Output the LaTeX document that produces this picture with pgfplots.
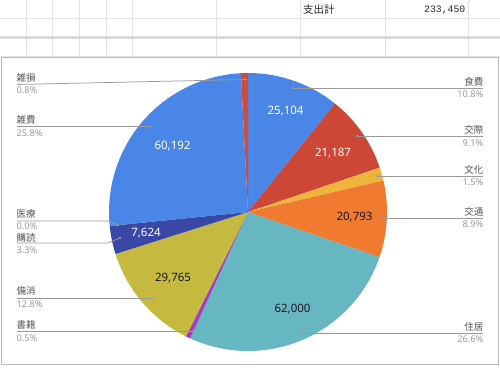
\documentclass[border=0pt]{standalone}
\usepackage{pgfplots}
\pgfplotsset{compat=1.18}
\usepackage{pgfplotstable}
\usepackage{fontspec}
\setmainfont{Noto Sans}
\newfontfamily\cjk{Noto Sans CJK JP}
\newfontfamily\num{Noto Sans}
\newfontfamily\mono{Liberation Mono}
\definecolor{pc0}{HTML}{4A86E8}
\definecolor{pc1}{HTML}{CC4735}
\definecolor{pc2}{HTML}{EEB43C}
\definecolor{pc3}{HTML}{EF7A30}
\definecolor{pc4}{HTML}{67B7C2}
\definecolor{pc5}{HTML}{A23CC0}
\definecolor{pc6}{HTML}{C5B93F}
\definecolor{pc7}{HTML}{3A47A6}
\definecolor{pc8}{HTML}{2F3E9E}
\definecolor{pc9}{HTML}{4A86E8}
\definecolor{pc10}{HTML}{D04B3C}
\definecolor{gridc}{HTML}{E3E3E3}
\definecolor{bandc}{HTML}{D6D9DD}
\definecolor{namec}{HTML}{555555}
\definecolor{pctc}{HTML}{9A9A9A}
\definecolor{leadc}{HTML}{9A9A9A}
\pgfplotstableread{
v
25104
21187
3600
20793
62000
1250
29765
7624
35
60192
1900
}\pietable
\tikzset{
  nl/.style={anchor=west, inner sep=0, text=namec, font=\cjk\fontsize{9.5bp}{11bp}\selectfont},
  pl/.style={anchor=west, inner sep=0, text=pctc, font=\num\fontsize{9.2bp}{11bp}\selectfont},
  nr/.style={anchor=east, inner sep=0, text=namec, font=\cjk\fontsize{9.5bp}{11bp}\selectfont},
  pr/.style={anchor=east, inner sep=0, text=pctc, font=\num\fontsize{9.2bp}{11bp}\selectfont},
  vl/.style={font=\num\fontsize{11.5bp}{13bp}\selectfont},
  ld/.style={leadc, line width=0.75bp},
}
\begin{document}
\begin{tikzpicture}
\gdef\tot{0}
\foreach \i in {0,...,10}{%
  \pgfplotstablegetelem{\i}{v}\of\pietable
  \xdef\tot{\fpeval{\tot+\pgfplotsretval}}%
}
\gdef\cum{0}
\foreach \i in {0,...,10}{%
  \pgfplotstablegetelem{\i}{v}\of\pietable
  \expandafter\xdef\csname as\i\endcsname{\fpeval{360*\cum/\tot}}%
  \xdef\cum{\fpeval{\cum+\pgfplotsretval}}%
  \expandafter\xdef\csname ae\i\endcsname{\fpeval{360*\cum/\tot}}%
}
\begin{axis}[
  width=500bp, height=367bp, scale only axis,
  xmin=0, xmax=500, ymin=0, ymax=367, y dir=reverse,
  hide axis, clip=false]
% spreadsheet grid
\pgfplotsinvokeforeach{26,52.7,79.3,106,132.7,216.7,300.7,385,468.3}{
  \draw[gridc, line width=0.8bp] (axis cs:#1,0) -- (axis cs:#1,57);
}
\draw[gridc, line width=0.8bp] (axis cs:0,18) -- (axis cs:500,18);
\draw[gridc, line width=0.8bp] (axis cs:0,56) -- (axis cs:500,56);
\fill[bandc] (axis cs:0,36) rectangle (axis cs:500,39);
\node[anchor=west, inner sep=0, font=\cjk\fontsize{10.5bp}{12bp}\selectfont, text=black!85] at (axis cs:303,10) {支出計};
\node[anchor=east, inner sep=0, font=\mono\fontsize{9.8bp}{12bp}\selectfont, text=black!85] at (axis cs:465.5,10.5) {233,450};
% chart box
\fill[white] (axis cs:1.5,57.5) rectangle (axis cs:498.5,364.5);
\draw[black!28, line width=0.8bp] (axis cs:1.5,57.5) rectangle (axis cs:498.5,364.5);
% wedges
\pgfplotsinvokeforeach{0,...,10}{
  \fill[pc#1] (axis cs:248,212) -- (axis cs:{248+139*sin(\csname as#1\endcsname)},{212-139*cos(\csname as#1\endcsname)})
    arc[start angle={90-\csname as#1\endcsname}, end angle={90-\csname ae#1\endcsname}, radius=139bp] -- cycle;
}
% value labels
\node[vl, text=white] at (axis cs:285.5,111) {25,104};
\node[vl, text=white] at (axis cs:333,153.5) {21,187};
\node[vl, text=black!90] at (axis cs:354.5,217) {20,793};
\node[vl, text=black!90] at (axis cs:292.5,309) {62,000};
\node[vl, text=black!90] at (axis cs:173,278.5) {29,765};
\node[vl, text=white] at (axis cs:146,233.5) {7,624};
\node[vl, text=white] at (axis cs:172.5,146) {60,192};
% leader lines
\draw[ld] (axis cs:17,84.5) -- (axis cs:245.5,79.5);
\draw[ld] (axis cs:17,126.5) -- (axis cs:150,126.5);
\draw[ld] (axis cs:17,221) -- (axis cs:108,221) -- (axis cs:118,225);
\draw[ld] (axis cs:17,243) -- (axis cs:108,243) -- (axis cs:120,238);
\draw[ld] (axis cs:17,298) -- (axis cs:152,298);
\draw[ld] (axis cs:17,331) -- (axis cs:193,331);
\draw[ld] (axis cs:293,88) -- (axis cs:483,88);
\draw[ld] (axis cs:357,136) -- (axis cs:483,136);
\draw[ld] (axis cs:377,176) -- (axis cs:483,176);
\draw[ld] (axis cs:382,218) -- (axis cs:483,218);
\draw[ld] (axis cs:302,333) -- (axis cs:483,333);
\fill[leadc] (axis cs:245.5,79.5) circle[radius=1.4bp];
\fill[leadc] (axis cs:150,126.5) circle[radius=1.4bp];
\fill[leadc] (axis cs:118,225) circle[radius=1.4bp];
\fill[leadc] (axis cs:120,238) circle[radius=1.4bp];
\fill[leadc] (axis cs:152,298) circle[radius=1.4bp];
\fill[leadc] (axis cs:193,331) circle[radius=1.4bp];
\fill[leadc] (axis cs:293,88) circle[radius=1.4bp];
\fill[leadc] (axis cs:357,136) circle[radius=1.4bp];
\fill[leadc] (axis cs:377,176) circle[radius=1.4bp];
\fill[leadc] (axis cs:382,218) circle[radius=1.4bp];
\fill[leadc] (axis cs:302,333) circle[radius=1.4bp];
% category labels left
\node[nl] at (axis cs:16.5,77.5) {雑損};
\node[pl] at (axis cs:16.5,90.5) {0.8\%};
\node[nl] at (axis cs:16.5,120) {雑費};
\node[pl] at (axis cs:16.5,133) {25.8\%};
\node[nl] at (axis cs:16.5,214) {医療};
\node[pl] at (axis cs:16.5,226.5) {0.0\%};
\node[nl] at (axis cs:16.5,237.5) {購読};
\node[pl] at (axis cs:16.5,250) {3.3\%};
\node[nl] at (axis cs:16.5,291) {備消};
\node[pl] at (axis cs:16.5,304) {12.8\%};
\node[nl] at (axis cs:16.5,325) {書籍};
\node[pl] at (axis cs:16.5,338) {0.5\%};
% category labels right
\node[nr] at (axis cs:483.5,81.5) {食費};
\node[pr] at (axis cs:483.5,94.5) {10.8\%};
\node[nr] at (axis cs:483.5,130) {交際};
\node[pr] at (axis cs:483.5,143) {9.1\%};
\node[nr] at (axis cs:483.5,169.5) {文化};
\node[pr] at (axis cs:483.5,182.5) {1.5\%};
\node[nr] at (axis cs:483.5,211.5) {交通};
\node[pr] at (axis cs:483.5,224.5) {8.9\%};
\node[nr] at (axis cs:483.5,326.5) {住居};
\node[pr] at (axis cs:483.5,339.5) {26.6\%};
\end{axis}
\pgfresetboundingbox
\path (current axis.south west) rectangle (current axis.north east);
\end{tikzpicture}
\end{document}
